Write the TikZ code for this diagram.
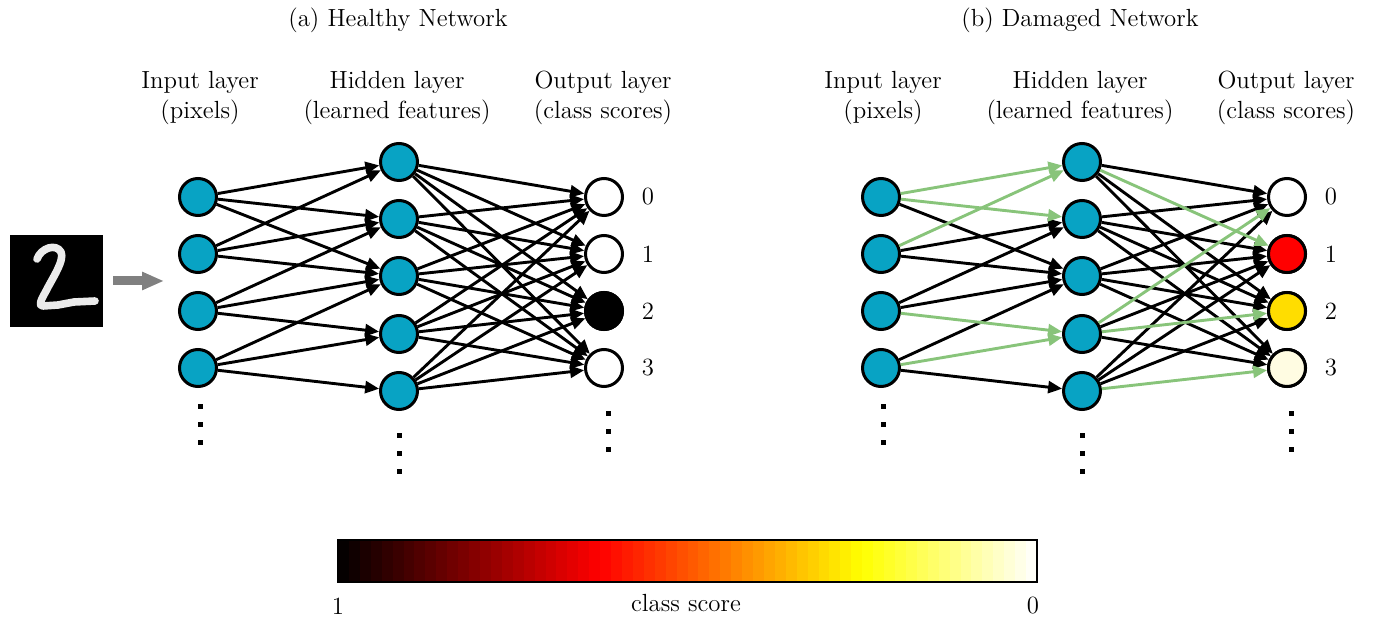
\documentclass[tikz,border=0pt]{standalone}
\usepackage{fontspec}
\usetikzlibrary{arrows.meta}
\definecolor{nodecyan}{RGB}{8,163,196}
\definecolor{edgegreen}{RGB}{136,196,122}
\definecolor{outred}{RGB}{255,0,0}
\definecolor{outyellow}{RGB}{255,221,0}
\definecolor{outpale}{RGB}{255,252,226}
\definecolor{arrowgray}{RGB}{128,128,128}
\newcommand\mynet[2]{%
  \foreach \i/\y in {1/197,2/254,3/311,4/368}
    \node[neuron] (#1i\i) at (#2+198,\y) {};
  \foreach \i/\y in {1/162,2/219,3/276,4/334,5/391}
    \node[neuron] (#1h\i) at (#2+399,\y) {};
  \foreach \i/\y in {1/197,2/254,3/311,4/368}
    \node[outn] (#1o\i) at (#2+604,\y) {};
  \foreach \i/\y in {1/197,2/254,3/311,4/368}
    \pgfmathtruncatemacro\lab{\i-1}
    \node[anchor=center] (#1lab\i) at (#2+648,\y) {\lab};
  \foreach \d in {0,18,36} {
    \fill (#2+197.5,404.5+\d) rectangle ++(5,5);
    \fill (#2+396.5,433.5+\d) rectangle ++(5,5);
    \fill (#2+605.5,411.5+\d) rectangle ++(5,5);
  }
  \node[align=center] (#1lin) at (#2+200,98) {Input layer\\(pixels)};
  \node[align=center] (#1lhid) at (#2+397,98) {Hidden layer\\(learned features)};
  \node[align=center] (#1lout) at (#2+603,98) {Output layer\\(class scores)};
}
\begin{document}
\begin{tikzpicture}[x=0.5pt,y=-0.5pt,
  font=\fontsize{12.4}{14.8}\selectfont,
  neuron/.style={circle, draw=black, line width=1.5pt, minimum size=18.5pt, inner sep=0pt, fill=nodecyan},
  outn/.style={neuron, fill=white},
  edge/.style={line width=1.45pt, draw=black, -{Triangle[length=7pt,width=6pt]}},
  gedge/.style={edge, draw=edgegreen, -{Triangle[length=7pt,width=6pt,fill=edgegreen]}},
  grayarrow/.style={draw=arrowgray, line width=4.5pt, -{Triangle[length=11pt,width=8.5pt,fill=arrowgray]}}]
\useasboundingbox (0,0) rectangle (1375,619);

% titles
\node (ta) at (398,20) {(a) Healthy Network};
\node (tb) at (1080,20) {(b) Damaged Network};

% networks
\mynet{a}{0}
\mynet{b}{683}
\node[fill=black, draw=black, line width=1.5pt, inner sep=0pt, minimum size=18.5pt, circle] (ao3) at (604,311) {};
\node[outn, fill=outred] (bo2) at (1287,254) {};
\node[outn, fill=outyellow] (bo3) at (1287,311) {};
\node[outn, fill=outpale] (bo4) at (1287,368) {};

% healthy edges
\foreach \a/\b in {1/1,1/2,1/3,2/1,2/2,2/3,3/2,3/3,3/4,4/3,4/4,4/5}
  \draw[edge] (ai\a) -- (ah\b);
\foreach \a in {1,...,5}
  \foreach \b in {1,...,4}
    \draw[edge] (ah\a) -- (ao\b);

% damaged edges
\foreach \a/\b in {1/3,2/2,2/3,3/2,3/3,4/3,4/5}
  \draw[edge] (bi\a) -- (bh\b);
\foreach \a/\b in {1/1,1/3,1/4,2/1,2/2,2/3,2/4,3/1,3/2,3/3,3/4,4/2,4/4,5/1,5/2,5/3}
  \draw[edge] (bh\a) -- (bo\b);
\foreach \a/\b in {1/1,1/2,2/1,3/4,4/4}
  \draw[gedge] (bi\a) -- (bh\b);
\foreach \a/\b in {1/2,4/1,4/3,5/4}
  \draw[gedge] (bh\a) -- (bo\b);

% input image
\fill[black] (10,235) rectangle (103,327);
\draw[white!92!black, line width=3.8pt, line cap=round, line join=round]
  (37,259) .. controls (41,248) and (56,243) .. (61,252)
  .. controls (65,260) and (52,279) .. (46,291)
  .. controls (41,300) and (38,306) .. (43,306)
  -- (58,305) -- (74,302) -- (95,301);
\coordinate (img) at (103,281);
\coordinate (ga1) at (113,281);
\coordinate (ga2) at (164,281);
\draw[grayarrow] (ga1) -- (ga2);

% colorbar
\foreach \k in {0,...,63} {
  \pgfmathsetmacro\cbt{(\k+0.5)/64}
  \pgfmathsetmacro\cbr{min(1,\cbt/0.375)}
  \pgfmathsetmacro\cbg{max(0,min(1,(\cbt-0.375)/0.375))}
  \pgfmathsetmacro\cbb{max(0,min(1,(\cbt-0.75)/0.25))}
  \definecolor{cb}{rgb}{\cbr,\cbg,\cbb}
  \pgfmathsetmacro\cbx{338+\k*10.921875}
  \fill[cb] (\cbx,540) rectangle (\cbx+11.5,582);
}
\draw[line width=0.8pt] (338,540) rectangle (1037,582);
\node (cb1) at (338,606) {1};
\node (cbl) at (686,603) {class score};
\node (cb0) at (1033,606) {0};
\end{tikzpicture}
\end{document}
